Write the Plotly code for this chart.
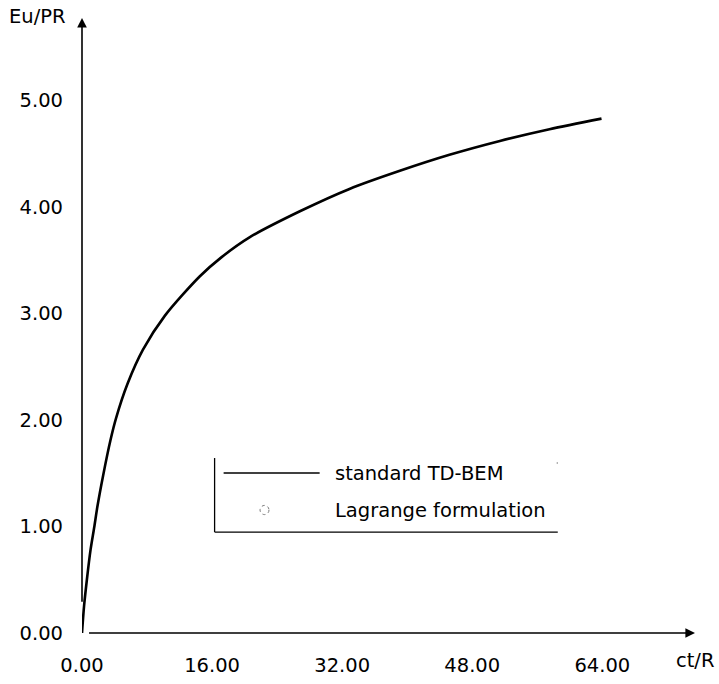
import plotly.graph_objects as go

# Data (ct/R vs Eu/PR, standard TD-BEM)
ct_R = [0.0, 0.25, 0.6, 1.05, 1.5, 1.9, 2.6, 3.5, 4.2, 5.6, 7.5, 10.2,
        14.5, 17.1, 20.6, 26.8, 32.9, 39.1, 45.2, 51.4, 57.5, 63.9]
eu_PR = [0.0, 0.25, 0.5, 0.78, 0.99, 1.19, 1.48, 1.81, 2.02, 2.34, 2.66, 2.98,
         3.35, 3.525, 3.715, 3.96, 4.17, 4.34, 4.49, 4.62, 4.73, 4.83]

x_ticks = [0, 16, 32, 48, 64]
x_tick_text = ["0.00", "16.00", "32.00", "48.00", "64.00"]
y_ticks = [0, 1, 2, 3, 4, 5]
y_tick_text = ["0.00", "1.00", "2.00", "3.00", "4.00", "5.00"]

series_names = ["standard TD-BEM", "Lagrange formulation"]

FONT = "DejaVu Sans, Liberation Sans, Arial, sans-serif"
FS = 19.5
XMAX = 75.4
YMAX = 5.775

fig = go.Figure()
fig.add_trace(go.Scatter(
    x=ct_R, y=eu_PR, mode="lines", name=series_names[0],
    line=dict(color="black", width=2.6, shape="spline", smoothing=0.8),
    showlegend=False, cliponaxis=False,
))

shapes = []
annotations = []

# axis lines with arrows (axes do not meet, like the reference)
annotations.append(dict(x=0, y=YMAX, ax=0, ay=0.28, xref="x", yref="y",
                        axref="x", ayref="y", text="", showarrow=True,
                        arrowhead=2, arrowsize=1.2, arrowwidth=1.6, arrowcolor="black"))
annotations.append(dict(x=XMAX, y=0, ax=0.68, ay=0, xref="x", yref="y",
                        axref="x", ayref="y", text="", showarrow=True,
                        arrowhead=2, arrowsize=1.2, arrowwidth=1.6, arrowcolor="black"))

# axis titles
annotations.append(dict(x=-0.1216, y=1.003, xref="paper", yref="paper", text="Eu/PR",
                        showarrow=False, xanchor="left", yanchor="middle",
                        font=dict(family=FONT, size=FS, color="black")))
annotations.append(dict(x=1.036, y=-0.0455, xref="paper", yref="paper", text="ct/R",
                        showarrow=False, xanchor="right", yanchor="middle",
                        font=dict(family=FONT, size=FS, color="black")))

# custom legend (left and bottom border only)
shapes.append(dict(type="line", xref="x", yref="y", x0=16.31, x1=16.31, y0=0.948, y1=1.643,
                   line=dict(color="black", width=1.3)))
shapes.append(dict(type="line", xref="x", yref="y", x0=16.31, x1=58.52, y0=0.948, y1=0.948,
                   line=dict(color="black", width=1.3)))
shapes.append(dict(type="line", xref="x", yref="y", x0=58.4, x1=58.5, y0=1.596, y1=1.596,
                   line=dict(color="#555555", width=1.5)))
shapes.append(dict(type="line", xref="x", yref="y", x0=17.42, x1=29.23, y0=1.502, y1=1.502,
                   line=dict(color="black", width=1.5)))
shapes.append(dict(type="circle", xref="x", yref="y", x0=21.9, x1=23.0, y0=1.112, y1=1.198,
                   line=dict(color="#777777", width=1, dash="dot")))
annotations.append(dict(x=30.83, y=1.502, xref="x", yref="y", text=series_names[0],
                        showarrow=False, xanchor="left", yanchor="middle",
                        font=dict(family=FONT, size=FS, color="black")))
annotations.append(dict(x=30.83, y=1.146, xref="x", yref="y", text=series_names[1],
                        showarrow=False, xanchor="left", yanchor="middle",
                        font=dict(family=FONT, size=FS, color="black")))

fig.update_layout(
    width=719, height=684,
    margin=dict(l=82, r=24, t=18, b=51, autoexpand=False),
    paper_bgcolor="white", plot_bgcolor="white",
    showlegend=False,
    shapes=shapes, annotations=annotations,
    xaxis=dict(range=[0, XMAX], showgrid=False, zeroline=False, showline=False,
               automargin=False,
               tickvals=x_ticks, ticktext=x_tick_text, ticks="",
               ticklabelstandoff=18,
               tickfont=dict(family=FONT, size=FS, color="black")),
    yaxis=dict(range=[0, YMAX], showgrid=False, zeroline=False, showline=False,
               automargin=False,
               tickvals=y_ticks, ticktext=y_tick_text, ticks="",
               ticklabelstandoff=18,
               tickfont=dict(family=FONT, size=FS, color="black")),
)

fig.write_html("out.html")
